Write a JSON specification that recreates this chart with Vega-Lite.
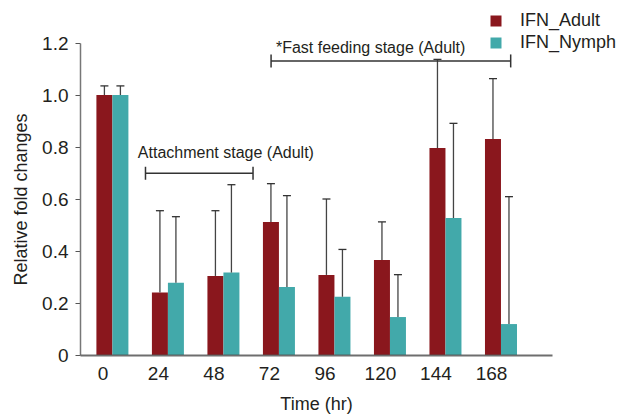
{
  "$schema": "https://vega.github.io/schema/vega-lite/v6.json",
  "width": 472,
  "height": 312,
  "autosize": "none",
  "padding": {"left": 80, "top": 43, "right": 72, "bottom": 60},
  "background": "white",
  "config": {
    "view": {"stroke": null},
    "font": "Liberation Sans",
    "text": {"font": "Liberation Sans"},
    "axis": {"labelFont": "Liberation Sans", "titleFont": "Liberation Sans", "labelColor": "#231f20", "titleColor": "#231f20", "titleFontWeight": "normal", "grid": false},
    "legend": {"labelFont": "Liberation Sans", "labelColor": "#231f20"}
  },
  "datasets": {
    "expr": [
      {"time": 0, "series": "IFN_Adult", "value": 1.0, "upper": 1.035},
      {"time": 24, "series": "IFN_Adult", "value": 0.24, "upper": 0.555},
      {"time": 48, "series": "IFN_Adult", "value": 0.304, "upper": 0.555},
      {"time": 72, "series": "IFN_Adult", "value": 0.512, "upper": 0.659},
      {"time": 96, "series": "IFN_Adult", "value": 0.308, "upper": 0.6},
      {"time": 120, "series": "IFN_Adult", "value": 0.365, "upper": 0.512},
      {"time": 144, "series": "IFN_Adult", "value": 0.796, "upper": 1.137},
      {"time": 168, "series": "IFN_Adult", "value": 0.831, "upper": 1.063},
      {"time": 0, "series": "IFN_Nymph", "value": 1.0, "upper": 1.035},
      {"time": 24, "series": "IFN_Nymph", "value": 0.278, "upper": 0.532},
      {"time": 48, "series": "IFN_Nymph", "value": 0.317, "upper": 0.655},
      {"time": 72, "series": "IFN_Nymph", "value": 0.262, "upper": 0.613},
      {"time": 96, "series": "IFN_Nymph", "value": 0.224, "upper": 0.406},
      {"time": 120, "series": "IFN_Nymph", "value": 0.146, "upper": 0.309},
      {"time": 144, "series": "IFN_Nymph", "value": 0.527, "upper": 0.891},
      {"time": 168, "series": "IFN_Nymph", "value": 0.119, "upper": 0.609}
    ],
    "stages": [
      {"label": "Attachment stage (Adult)", "start": 14.3, "end": 60.8, "level": 0.699, "textX": 11.0, "textY": 0.758},
      {"label": "*Fast feeding stage (Adult)", "start": 68.6, "end": 172.2, "level": 1.131, "textX": 70.7, "textY": 1.16}
    ]
  },
  "layer": [
    {
      "data": {"name": "expr"},
      "transform": [{"filter": "datum.series == 'IFN_Adult'"}],
      "mark": {"type": "bar", "width": 16, "xOffset": -8},
      "encoding": {
        "x": {"field": "time", "type": "quantitative", "scale": {"domain": [-11.85, 187.9], "nice": false, "zero": false},
          "axis": {"values": [0, 24, 48, 72, 96, 120, 144, 168], "ticks": false, "labelOffset": -10, "labelFontSize": 19, "labelPadding": 9, "title": "Time (hr)", "titleFontSize": 18, "titlePadding": 12, "domainColor": "#555", "domainWidth": 2, "domainOpacity": 0.85, "zindex": 1}},
        "y": {"field": "value", "type": "quantitative", "scale": {"domain": [0, 1.2], "nice": false},
          "axis": {"values": [0, 0.2, 0.4, 0.6, 0.8, 1.0, 1.2], "labelExpr": "datum.value == 0 ? '0' : format(datum.value, '.1f')", "tickSize": 5, "tickColor": "#555", "domainColor": "#777", "domainWidth": 1.5, "labelFontSize": 19, "labelPadding": 7, "title": "Relative fold changes", "titleFontSize": 18, "titlePadding": 11}},
        "color": {"field": "series", "type": "nominal", "title": null,
          "scale": {"domain": ["IFN_Adult", "IFN_Nymph"], "range": ["#8a171d", "#42a9aa"]},
          "legend": {"orient": "none", "legendX": 407, "legendY": -31, "symbolType": "square", "symbolSize": 121, "symbolStrokeWidth": 0, "symbolOpacity": 1, "labelFontSize": 18, "labelOffset": 15, "rowPadding": 4}}
      }
    },
    {
      "data": {"name": "expr"},
      "transform": [{"filter": "datum.series == 'IFN_Nymph'"}],
      "mark": {"type": "bar", "width": 16, "xOffset": 8},
      "encoding": {
        "x": {"field": "time", "type": "quantitative"},
        "y": {"field": "value", "type": "quantitative"},
        "color": {"field": "series", "type": "nominal"}
      }
    },
    {
      "data": {"name": "expr"},
      "transform": [{"filter": "datum.series == 'IFN_Adult'"}],
      "mark": {"type": "rule", "xOffset": -8, "color": "#444", "strokeWidth": 1.3},
      "encoding": {
        "x": {"field": "time", "type": "quantitative"},
        "y": {"field": "value", "type": "quantitative"},
        "y2": {"field": "upper"}
      }
    },
    {
      "data": {"name": "expr"},
      "transform": [{"filter": "datum.series == 'IFN_Nymph'"}],
      "mark": {"type": "rule", "xOffset": 8, "color": "#444", "strokeWidth": 1.3},
      "encoding": {
        "x": {"field": "time", "type": "quantitative"},
        "y": {"field": "value", "type": "quantitative"},
        "y2": {"field": "upper"}
      }
    },
    {
      "data": {"name": "expr"},
      "transform": [{"filter": "datum.series == 'IFN_Adult'"}],
      "mark": {"type": "tick", "orient": "horizontal", "xOffset": -8, "color": "#333", "size": 8, "thickness": 1.3, "opacity": 1},
      "encoding": {
        "x": {"field": "time", "type": "quantitative"},
        "y": {"field": "upper", "type": "quantitative"}
      }
    },
    {
      "data": {"name": "expr"},
      "transform": [{"filter": "datum.series == 'IFN_Nymph'"}],
      "mark": {"type": "tick", "orient": "horizontal", "xOffset": 8, "color": "#333", "size": 8, "thickness": 1.3, "opacity": 1},
      "encoding": {
        "x": {"field": "time", "type": "quantitative"},
        "y": {"field": "upper", "type": "quantitative"}
      }
    },
    {
      "data": {"name": "stages"},
      "mark": {"type": "rule", "color": "#333", "strokeWidth": 1.5},
      "encoding": {
        "x": {"field": "start", "type": "quantitative"},
        "x2": {"field": "end"},
        "y": {"field": "level", "type": "quantitative"}
      }
    },
    {
      "data": {"name": "stages"},
      "transform": [{"fold": ["start", "end"], "as": ["edge", "pos"]}],
      "mark": {"type": "tick", "orient": "vertical", "color": "#333", "size": 13, "thickness": 1.5, "opacity": 1},
      "encoding": {
        "x": {"field": "pos", "type": "quantitative"},
        "y": {"field": "level", "type": "quantitative"}
      }
    },
    {
      "data": {"name": "stages"},
      "mark": {"type": "text", "align": "left", "baseline": "alphabetic", "fontSize": 16, "color": "#231f20"},
      "encoding": {
        "x": {"field": "textX", "type": "quantitative"},
        "y": {"field": "textY", "type": "quantitative"},
        "text": {"field": "label"}
      }
    }
  ]
}
